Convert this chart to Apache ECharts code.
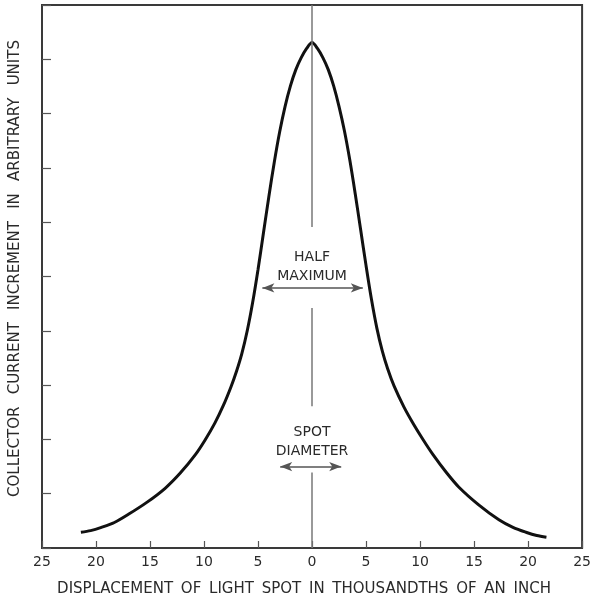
<!DOCTYPE html>
<html>
<head>
<meta charset="utf-8">
<script src="https://cdn.jsdelivr.net/npm/echarts@6/dist/echarts.min.js"></script>
<style>
html,body{margin:0;padding:0;background:#fff;}
#chart{width:594px;height:602px;}
</style>
</head>
<body>
<div id="chart"></div>
<script>
// Curve: displacement (thousandths of an inch) vs collector current increment (arbitrary units)
const displacement = [-21.4, -20.5, -19.5, -18.3, -17.0, -15.3, -13.6, -12.2, -10.8, -9.9, -9.0, -8.2, -7.5, -7.0, -6.5, -6.0, -5.5, -5.0, -4.5, -4.0, -3.5, -3.0, -2.5, -2.0, -1.5, -1.0, -0.5, 0,
                      0.5, 1.0, 1.5, 2.0, 2.5, 3.0, 3.5, 4.0, 4.5, 5.0, 5.5, 6.0, 6.5, 7.0, 7.6, 8.5, 9.4, 10.3, 11.2, 12.4, 13.6, 15.4, 17.3, 18.6, 19.8, 20.8, 21.7];
const current      = [0.29, 0.32, 0.38, 0.47, 0.62, 0.84, 1.10, 1.38, 1.72, 1.99, 2.30, 2.63, 2.97, 3.25, 3.58, 4.00, 4.52, 5.13, 5.80, 6.47, 7.10, 7.66, 8.13, 8.51, 8.81, 9.03, 9.20, 9.31,
                      9.20, 9.03, 8.81, 8.51, 8.13, 7.68, 7.14, 6.52, 5.86, 5.20, 4.58, 4.05, 3.63, 3.30, 2.98, 2.60, 2.28, 1.99, 1.72, 1.40, 1.12, 0.80, 0.52, 0.38, 0.29, 0.23, 0.20];

const xTicks = [-25, -20, -15, -10, -5, 0, 5, 10, 15, 20, 25];

// Annotation values (data units)
const halfMaxArrow = { xFrom: -4.6, xTo: 4.7, y: 4.79 };
const spotArrow = { xFrom: -2.95, xTo: 2.7, y: 1.50 };
const centerSegments = [[10, 5.91], [4.42, 2.61], [1.39, 0]];
const halfMaxLabel = { x: 0, y: 5.18, text: 'HALF\nMAXIMUM' };
const spotLabel = { x: 0, y: 1.96, text: 'SPOT\nDIAMETER' };

const xTitle = 'DISPLACEMENT OF LIGHT SPOT IN THOUSANDTHS OF AN INCH';
const yTitle = 'COLLECTOR CURRENT INCREMENT IN ARBITRARY UNITS';

const FONT = 'DejaVu Sans';
const chart = echarts.init(document.getElementById('chart'));

const curveData = displacement.map((x, i) => [x, current[i]]);
const wideX = s => s.split(' ').join(' \u2009');
const wideY = s => s.split(' ').join(' \u2002');

chart.setOption({
  animation: false,
  backgroundColor: '#fff',
  grid: { left: 40, right: 7, top: 5, bottom: 52, show: true, borderColor: '#3a3a3a', borderWidth: 2 },
  xAxis: {
    type: 'value', min: xTicks[0], max: xTicks[xTicks.length - 1], interval: 5,
    name: wideX(xTitle), nameLocation: 'middle', nameGap: 34,
    nameTextStyle: { fontFamily: FONT, fontSize: 15, color: '#2a2a2a', padding: [0, 16, 0, 0] },
    axisLine: { show: true, onZero: false, lineStyle: { color: '#3a3a3a', width: 2 } },
    axisTick: { show: true, inside: true, length: 7, lineStyle: { color: '#555', width: 1.2 } },
    axisLabel: { margin: 7, fontFamily: FONT, fontSize: 14, color: '#2a2a2a', formatter: v => String(Math.abs(v)) },
    splitLine: { show: false }
  },
  yAxis: {
    type: 'value', min: 0, max: 10, interval: 1,
    name: wideY(yTitle), nameLocation: 'middle', nameGap: 19,
    nameTextStyle: { fontFamily: FONT, fontSize: 15, color: '#2a2a2a', padding: [0, 0, 0, 16] },
    axisLine: { show: true, onZero: false, lineStyle: { color: '#3a3a3a', width: 2 } },
    axisTick: { show: true, inside: true, length: 9, lineStyle: { color: '#555', width: 1.2 } },
    axisLabel: { show: false },
    splitLine: { show: false }
  },
  series: [
    {
      type: 'line', data: curveData, smooth: 0.3, showSymbol: false,
      lineStyle: { color: '#111', width: 3 },
      z: 3
    },
    {
      type: 'line', data: [], silent: true,
      markLine: {
        silent: true, animation: false,
        symbol: ['none', 'none'],
        label: { show: false },
        lineStyle: { color: '#777', width: 1.5, type: 'solid' },
        data: centerSegments.map(s => [{ coord: [0, s[0]] }, { coord: [0, s[1]] }]).concat([
          [{ coord: [halfMaxArrow.xFrom, halfMaxArrow.y], symbol: 'arrow', symbolSize: [7, 12], lineStyle: { color: '#555', width: 1.5 } },
           { coord: [halfMaxArrow.xTo, halfMaxArrow.y], symbol: 'arrow', symbolSize: [7, 12] }],
          [{ coord: [spotArrow.xFrom, spotArrow.y], symbol: 'arrow', symbolSize: [7, 12], lineStyle: { color: '#555', width: 1.5 } },
           { coord: [spotArrow.xTo, spotArrow.y], symbol: 'arrow', symbolSize: [7, 12] }]
        ])
      },
      markPoint: {
        silent: true, symbol: 'circle', symbolSize: 0,
        label: { show: true, position: 'inside', fontFamily: FONT, fontSize: 14, color: '#2a2a2a', lineHeight: 19, align: 'center' },
        data: [
          { coord: [halfMaxLabel.x, halfMaxLabel.y], label: { formatter: halfMaxLabel.text } },
          { coord: [spotLabel.x, spotLabel.y], label: { formatter: spotLabel.text } }
        ]
      }
    }
  ]
});
</script>
</body>
</html>
